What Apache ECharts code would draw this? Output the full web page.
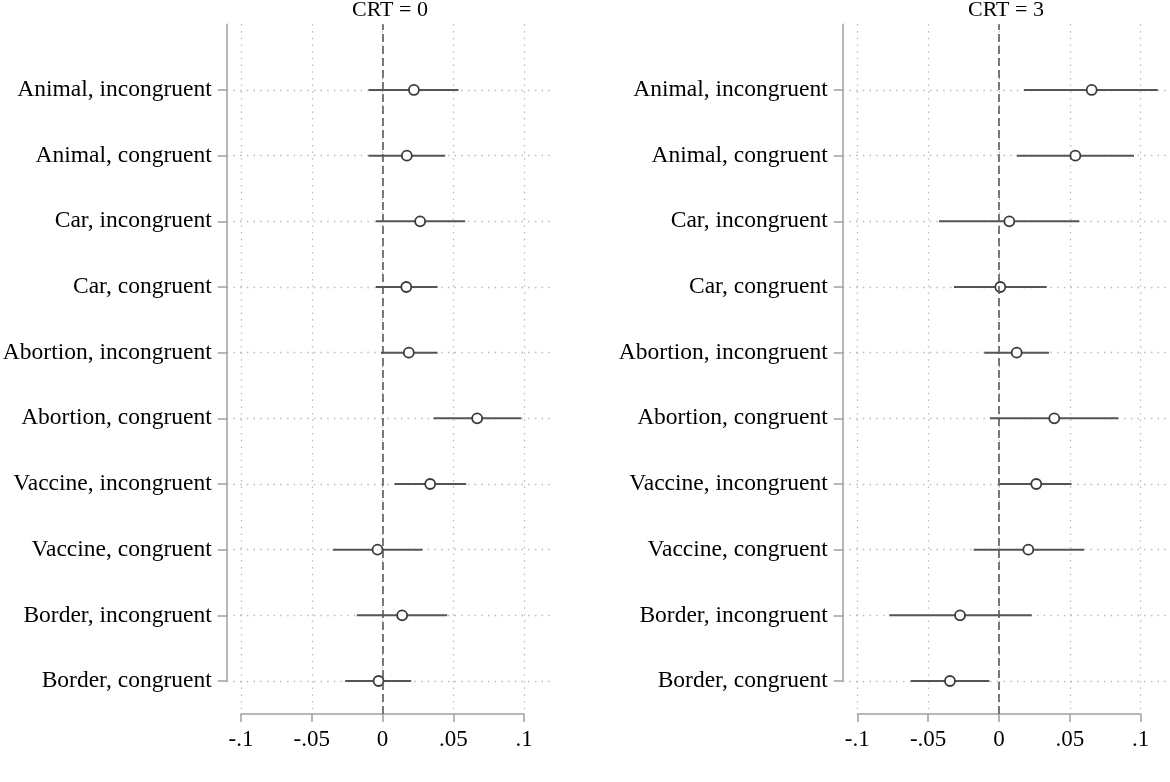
<!DOCTYPE html>
<html>
<head>
<meta charset="utf-8">
<script src="https://cdn.jsdelivr.net/npm/echarts@6/dist/echarts.min.js"></script>
<style>
html,body{margin:0;padding:0;background:#fff;}
#chart{width:1170px;height:782px;}
</style>
</head>
<body>
<div id="chart"></div>
<script>
// ---- data (top to bottom as shown) ----
var categories = [
  'Animal, incongruent','Animal, congruent','Car, incongruent','Car, congruent',
  'Abortion, incongruent','Abortion, congruent','Vaccine, incongruent','Vaccine, congruent',
  'Border, incongruent','Border, congruent'
];
var panelTitles = ['CRT = 0', 'CRT = 3'];
var xTickLabels = ['-.1', '-.05', '0', '.05', '.1'];

var crt0Est = [0.0222, 0.0172, 0.0266, 0.0168, 0.0186, 0.0669, 0.0337, -0.0035, 0.0139, -0.0028];
var crt0Lo  = [-0.0099, -0.0099, -0.0047, -0.0047, -0.0011, 0.0360, 0.0085, -0.0351, -0.0181, -0.0264];
var crt0Hi  = [0.0537, 0.0443, 0.0584, 0.0389, 0.0389, 0.0980, 0.0592, 0.0283, 0.0457, 0.0203];

var crt3Est = [0.0654, 0.0539, 0.0073, 0.0009, 0.0125, 0.0390, 0.0263, 0.0207, -0.0275, -0.0346];
var crt3Lo  = [0.0176, 0.0125, -0.0423, -0.0318, -0.0104, -0.0064, 0.0002, -0.0179, -0.0774, -0.0623];
var crt3Hi  = [0.1120, 0.0953, 0.0567, 0.0337, 0.0353, 0.0842, 0.0511, 0.0600, 0.0231, -0.0068];

// ---- layout ----
var FONT = '"Liberation Serif","DejaVu Serif",serif';
var yData = categories.slice().reverse().concat(['']);
var panels = [
  {yAxisX: 226.7, xLeft: 241, xRight: 524, est: crt0Est, lo: crt0Lo, hi: crt0Hi},
  {yAxisX: 842.7, xLeft: 857.3, xRight: 1140.7, est: crt3Est, lo: crt3Lo, hi: crt3Hi}
];
var regionW = 326.6, TOP = 24.3, catBottom = 681, axisBottom = 714;
var XMIN = -0.1, XMAX = 0.1;

var grids = [], xAxes = [], yAxes = [], series = [], titles = [];
var gridLine = {type: [1.5, 5.2], color: '#bababa', width: 1.3};
var notBlank = function (i, v) { return v !== ''; };

panels.forEach(function (p, k) {
  var ppu = (p.xRight - p.xLeft) / (XMAX - XMIN);
  var gi = grids.length;
  // category grid (plot region)
  grids.push({left: p.yAxisX, top: TOP, width: regionW, height: catBottom - TOP,
              containLabel: false, outerBoundsMode: 'none'});
  // value axis grid
  grids.push({left: p.xLeft, top: TOP, width: p.xRight - p.xLeft, height: axisBottom - TOP,
              containLabel: false, outerBoundsMode: 'none'});

  xAxes.push({
    type: 'value', gridIndex: gi, show: false,
    min: XMIN - (p.xLeft - p.yAxisX) / ppu,
    max: XMAX + (p.yAxisX + regionW - p.xRight) / ppu,
    axisLine: {onZero: false},
    splitLine: {show: false}
  });
  xAxes.push({
    type: 'value', gridIndex: gi + 1, min: XMIN, max: XMAX, interval: 0.05,
    axisLine: {show: true, onZero: false, lineStyle: {color: '#a0a0a0', width: 1.5}},
    axisTick: {show: true, length: 8, inside: false, lineStyle: {color: '#a0a0a0', width: 1.5}},
    axisLabel: {
      margin: 14, fontFamily: FONT, fontSize: 23, color: '#000',
      formatter: function (v) { return xTickLabels[Math.round(v / 0.05) + 2]; }
    },
    splitLine: {show: true, lineStyle: gridLine}
  });
  yAxes.push({
    type: 'category', gridIndex: gi, data: yData, boundaryGap: false,
    axisLine: {show: true, onZero: false, lineStyle: {color: '#a0a0a0', width: 1.5}},
    axisTick: {show: true, length: 9, interval: notBlank, lineStyle: {color: '#a0a0a0', width: 1.5}},
    axisLabel: {margin: 15, fontFamily: FONT, fontSize: 23.5, color: '#000', interval: 0},
    splitLine: {show: true, interval: notBlank, lineStyle: gridLine}
  });
  yAxes.push({
    type: 'category', gridIndex: gi + 1, data: yData, boundaryGap: false, show: false,
    axisLine: {onZero: false},
    splitLine: {show: false}
  });

  var rows = categories.map(function (c, i) {
    return [p.lo[i], p.hi[i], yData.indexOf(c), p.est[i]];
  });
  // zero reference line
  series.push({
    type: 'line', xAxisIndex: gi + 1, yAxisIndex: gi + 1, data: [], showSymbol: false,
    silent: true,
    markLine: {
      silent: true, symbol: ['none', 'none'], label: {show: false},
      lineStyle: {type: [8, 4], color: '#5a5a5a', width: 1.6},
      data: [{xAxis: 0}]
    }
  });
  series.push({
    type: 'custom', xAxisIndex: gi, yAxisIndex: gi, data: rows, silent: true,
    encode: {x: [0, 1, 3], y: 2},
    renderItem: function (params, api) {
      var y = api.value(2);
      var a = api.coord([api.value(0), y]);
      var b = api.coord([api.value(1), y]);
      var c = api.coord([api.value(3), y]);
      return {
        type: 'group', children: [
          {type: 'line', shape: {x1: a[0], y1: a[1], x2: b[0], y2: b[1]},
           style: {stroke: '#555', lineWidth: 2}},
          {type: 'circle', shape: {cx: c[0], cy: c[1], r: 5},
           style: {fill: '#fff', stroke: '#3a3a3a', lineWidth: 1.8}}
        ]
      };
    }
  });
  titles.push({
    text: panelTitles[k], left: p.yAxisX + regionW / 2, top: -1, textAlign: 'center', padding: 0,
    textStyle: {fontFamily: FONT, fontSize: 22, fontWeight: 'normal', color: '#000'}
  });
});

var chart = echarts.init(document.getElementById('chart'), null, {renderer: 'canvas'});
chart.setOption({
  backgroundColor: '#fff',
  animation: false,
  title: titles,
  grid: grids,
  xAxis: xAxes,
  yAxis: yAxes,
  series: series
});
</script>
</body>
</html>
